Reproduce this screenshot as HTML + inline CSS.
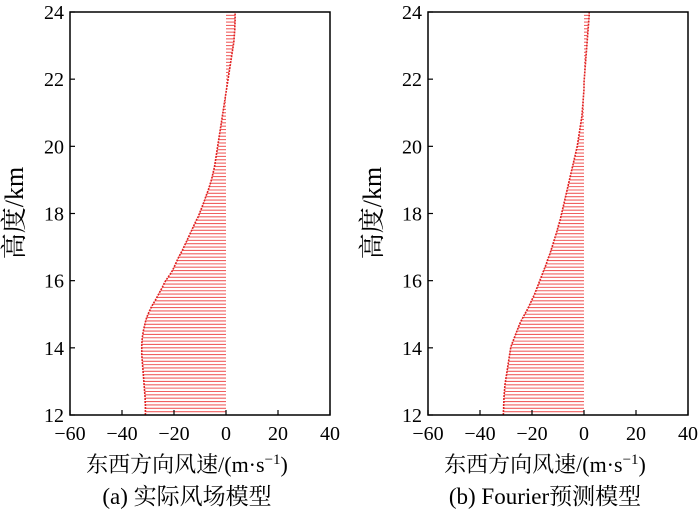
<!DOCTYPE html>
<html><head><meta charset="utf-8"><style>
body{margin:0;background:#fff}
svg text{font-family:"Liberation Serif","Noto Serif CJK SC",serif;fill:#000}
</style></head><body>
<svg id="c" width="700" height="513"></svg>
<script>
const heights=[];for(let i=0;i<=120;i++)heights.push(12+i*0.1);
const actualWind=[-31,-31,-31,-31,-31.1,-31.1,-31.2,-31.3,-31.4,-31.5,
-31.6,-31.7,-31.8,-31.9,-32,-32.1,-32.2,-32.3,-32.4,-32.4,
-32.4,-32.4,-32.3,-32.2,-32,-31.8,-31.5,-31.2,-30.9,-30.5,
-30,-29.4,-28.8,-28.1,-27.3,-26.6,-25.9,-25.2,-24.5,-23.9,
-23.2,-22.3,-21.4,-20.6,-20,-19.4,-18.8,-18.2,-17.5,-16.8,
-16.2,-15.6,-15,-14.4,-13.8,-13.2,-12.6,-12,-11.4,-10.7,
-10.2,-9.7,-9.2,-8.7,-8.2,-7.8,-7.3,-6.8,-6.4,-6,
-5.6,-5.3,-5,-4.7,-4.4,-4.2,-4,-3.8,-3.6,-3.4,
-3.2,-3,-2.8,-2.6,-2.4,-2.2,-2,-1.8,-1.6,-1.4,
-1.2,-1,-0.8,-0.6,-0.4,-0.2,0,0.2,0.4,0.6,
0.8,1,1.2,1.4,1.6,1.8,2,2.2,2.4,2.6,
2.8,3,3.1,3.2,3.3,3.4,3.4,3.5,3.5,3.5,3.5];
const fourierWind=[-31,-31,-30.9,-30.9,-30.8,-30.8,-30.7,-30.6,-30.5,-30.4,
-30.2,-30,-29.8,-29.6,-29.4,-29.2,-29,-28.8,-28.6,-28.4,
-28.2,-27.8,-27.3,-26.8,-26.3,-25.8,-25.3,-24.8,-24.2,-23.5,
-22.8,-22.1,-21.4,-20.8,-20.2,-19.6,-19,-18.5,-18,-17.5,
-17,-16.5,-16,-15.5,-15,-14.5,-14.1,-13.6,-13.1,-12.7,
-12.3,-11.9,-11.5,-11.1,-10.7,-10.3,-10,-9.6,-9.2,-8.9,
-8.6,-8.3,-8,-7.7,-7.4,-7.1,-6.8,-6.5,-6.2,-5.9,
-5.6,-5.3,-5,-4.7,-4.4,-4.1,-3.8,-3.5,-3.2,-2.9,
-2.6,-2.4,-2.2,-2,-1.8,-1.6,-1.4,-1.2,-1,-0.8,
-0.7,-0.6,-0.5,-0.4,-0.3,-0.2,-0.1,0,0,0,
0.1,0.2,0.3,0.4,0.5,0.6,0.7,0.8,0.9,1,
1.1,1.2,1.3,1.4,1.5,1.6,1.7,1.8,1.9,2,2];
const xTicks=[-60,-40,-20,0,20,40];
const yTicks=[12,14,16,18,20,22,24];
const captions=["(a) 实际风场模型","(b) Fourier预测模型"];
const svg=document.getElementById('c');const NS='http://www.w3.org/2000/svg';
function mk(t,a,p){const e=document.createElementNS(NS,t);for(const k in a)e.setAttribute(k,a[k]);(p||svg).appendChild(e);return e;}
function panel(x0,data,idx){
 const w=260,top=12,bot=415;
 const sx=v=>x0+(v+60)/100*w, sy=h=>bot-(h-12)/12*(bot-top);
 const g=mk('g',{});
 
 
 data.forEach((v,i)=>{const l=mk('line',{x1:sx(0),x2:sx(v),y1:sy(heights[i]),y2:sy(heights[i]),stroke:'#f06060','stroke-width':1.1},g);
  
  });
 const pl=mk('polyline',{points:data.map((v,i)=>sx(v)+','+sy(heights[i])).join(' '),fill:'none',stroke:'#e02020','stroke-width':1.6,'stroke-dasharray':'2 1'},g);
 
 
 const fr=mk('rect',{x:x0,y:top,width:w,height:bot-top,fill:'none',stroke:'#000','stroke-width':1.5},g);
 
 
 xTicks.forEach(t=>{mk('line',{x1:sx(t),x2:sx(t),y1:bot,y2:bot-5,stroke:'#000','stroke-width':1.2},g);
  const tx=mk('text',{x:sx(t),y:bot+25,'text-anchor':'middle','font-size':20},g);tx.textContent=(t<0?'−'+(-t):t);
  
  });
 yTicks.forEach(t=>{mk('line',{x1:x0,x2:x0+5,y1:sy(t),y2:sy(t),stroke:'#000','stroke-width':1.2},g);
  const tx=mk('text',{x:x0-6,y:sy(t)+7,'text-anchor':'end','font-size':20},g);tx.textContent=t;
  
  });
 const yl=mk('text',{x:0,y:0,'text-anchor':'middle','font-size':26,transform:`translate(${x0-47},213) rotate(-90)`},g);yl.textContent='高度/km';
 
 
 const xl=mk('text',{x:x0+w/2-13,y:472,'text-anchor':'middle','font-size':22},g);xl.innerHTML='东西方向风速/(m·s<tspan dy="-8" font-size="15">−1</tspan><tspan dy="8">)</tspan>';
 
 
 const cp=mk('text',{x:x0+w/2-13,y:504,'text-anchor':'middle','font-size':23},g);cp.textContent=captions[idx];
 
 
}
panel(70,actualWind,0);
panel(428,fourierWind,1);
</script>
</body></html>
